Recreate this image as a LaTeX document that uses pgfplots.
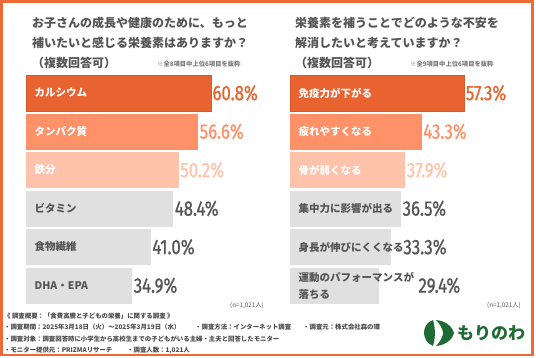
\documentclass[border=0pt]{standalone}
\usepackage{pgfplots}
\pgfplotsset{compat=1.18}
\usepackage{fontspec}
\setmainfont{Noto Sans CJK JP}
\newfontfamily\jp{Noto Sans CJK JP}
\newfontfamily\num[FakeStretch=0.8, FakeBold=0.8]{Fira Sans}
\definecolor{c1}{HTML}{E8632F}
\definecolor{c2}{HTML}{FF9169}
\definecolor{c3}{HTML}{FFC3AB}
\definecolor{cg}{HTML}{E0E0E0}
\definecolor{tg}{HTML}{555555}
\definecolor{tf}{HTML}{4A4A4A}
\definecolor{bord}{HTML}{EC6A35}
\definecolor{logo}{HTML}{1F6B35}
\pgfplotsset{
  panel/.style={
    anchor=north west,
    scale only axis, width=212.8pt, height=231pt,
    xmin=0, xmax=70, ymin=-0.5, ymax=5.5, y dir=reverse,
    enlargelimits=false,
    xbar, bar width=36pt, bar shift=0pt,
    axis on top,
    axis line style={draw=none}, major tick length=0pt,
    xtick=\empty, ytick={0,...,5},
    yticklabel style={anchor=west, inner sep=0pt, xshift=8.5pt, align=left,
      font=\jp\bfseries\fontsize{10.5}{17}\selectfont, text=tg},
    clip=false,
    /pgf/number format/assume math mode=true,
    point meta=x,
    nodes near coords={\pgfmathprintnumber[fixed,fixed zerofill,precision=1]{\pgfplotspointmeta}\%},
    every node near coord/.append style={inner sep=0pt, anchor=west,
      font=\num\fontsize{21}{21}\selectfont, xshift=1.5pt},
  }
}
\begin{document}
\begin{tikzpicture}[x=1pt,y=-1pt]
\path[use as bounding box] (0,0) rectangle (536,357);
\draw[bord, line width=2.5pt] (1.25,1.25) rectangle (532.5,355);

% titles
\begin{scope}[every node/.style={anchor=west, inner sep=0pt, text=tg, font=\jp\bfseries\fontsize{12}{12}\selectfont}]
\node at (32,23) {お子さんの成長や健康のために、もっと};
\node at (32,43) {補いたいと感じる栄養素はありますか？};
\node at (32,63) {（複数回答可）};
\node at (295,23) {栄養素を補うことでどのような不安を};
\node at (295,43) {解消したいと考えていますか？};
\node at (295,63) {（複数回答可）};
\end{scope}
\node[anchor=west, inner sep=0pt, text=tg!80, font=\jp\bfseries\fontsize{6.3}{7}\selectfont] at (157,64.5) {※全8項目中上位6項目を抜粋};
\node[anchor=west, inner sep=0pt, text=tg!80, font=\jp\bfseries\fontsize{6.3}{7}\selectfont] at (410,64.5) {※全9項目中上位6項目を抜粋};

% left panel
\begin{axis}[panel, at={(26pt,-73.75pt)},
  yticklabels={{\color{white}カルシウム},{\color{white}タンパク質},{\color{white}鉄分},ビタミン,食物繊維,DHA・EPA}]
\addplot[fill=c1, draw=c1!92!black, every node near coord/.append style={text=c1}] coordinates {(60.8,0)};
\addplot[fill=c2, draw=none, every node near coord/.append style={text=c2}] coordinates {(56.6,1)};
\addplot[fill=c3, draw=none, every node near coord/.append style={text=c3}] coordinates {(50.2,2)};
\addplot[fill=cg, draw=none, every node near coord/.append style={text=tg}] coordinates {(48.4,3)};
\addplot[fill=cg, draw=none, every node near coord/.append style={text=tg}] coordinates {(41.0,4)};
\addplot[fill=cg, draw=none, every node near coord/.append style={text=tg}] coordinates {(34.9,5)};
\end{axis}

% right panel
\begin{axis}[panel, at={(290pt,-73.75pt)},
  yticklabels={{\color{white}免疫力が下がる},{\color{white}疲れやすくなる},{\color{white}骨が弱くなる},集中力に影響が出る,身長が伸びにくくなる,{運動のパフォーマンスが\\落ちる}}]
\addplot[fill=c1, draw=c1!92!black, every node near coord/.append style={text=c1}] coordinates {(57.3,0)};
\addplot[fill=c2, draw=none, every node near coord/.append style={text=c2}] coordinates {(43.3,1)};
\addplot[fill=c3, draw=none, every node near coord/.append style={text=c3}] coordinates {(37.9,2)};
\addplot[fill=cg, draw=none, every node near coord/.append style={text=tg}] coordinates {(36.5,3)};
\addplot[fill=cg, draw=none, every node near coord/.append style={text=tg, xshift=10.5pt}] coordinates {(33.3,4)};
\addplot[fill=cg, draw=none, every node near coord/.append style={text=tg, xshift=37.5pt}] coordinates {(29.4,5)};
\end{axis}

\node[anchor=east, inner sep=0pt, text=tg, font=\jp\fontsize{6.3}{7}\selectfont] at (264,306) {(n=1,021人)};
\node[anchor=east, inner sep=0pt, text=tg, font=\jp\fontsize{6.3}{7}\selectfont] at (521,306) {(n=1,021人)};

% footer
\begin{scope}[every node/.style={anchor=west, inner sep=0pt, text=tf, font=\jp\bfseries\fontsize{6.4}{7}\selectfont}]
\node at (4,316) {《 調査概要：「食費高騰と子どもの栄養」に関する調査 》};
\node at (4,327.5) {・調査期間：2025年3月18日（火）～2025年3月19日（水）};
\node at (195,327.5) {・調査方法：インターネット調査};
\node at (303,327.5) {・調査元：株式会社森の環};
\node at (4,339) {・調査対象：調査回答時に小学生から高校生までの子どもがいる主婦・主夫と回答したモニター};
\node at (4,350) {・モニター提供元：PRIZMAリサーチ};
\node at (127,350) {・調査人数：1,021人};
\end{scope}

% logo
\fill[logo] (433,320) .. controls (421,324) and (421,341) .. (433,346) .. controls (435.5,338) and (435.5,328) .. (433,320) -- cycle;
\fill[logo] (436,320) .. controls (447,321) and (453,328) .. (454,333) .. controls (453,338) and (447,345) .. (436,346) .. controls (440,342) and (442,338) .. (443,334) -- (443,332) .. controls (442,328) and (440,324) .. (436,320) -- cycle;
\node[anchor=west, inner sep=0pt, text=logo, font=\jp\bfseries\fontsize{17}{17}\selectfont] at (457,333) {もりのわ};
\end{tikzpicture}
\end{document}
